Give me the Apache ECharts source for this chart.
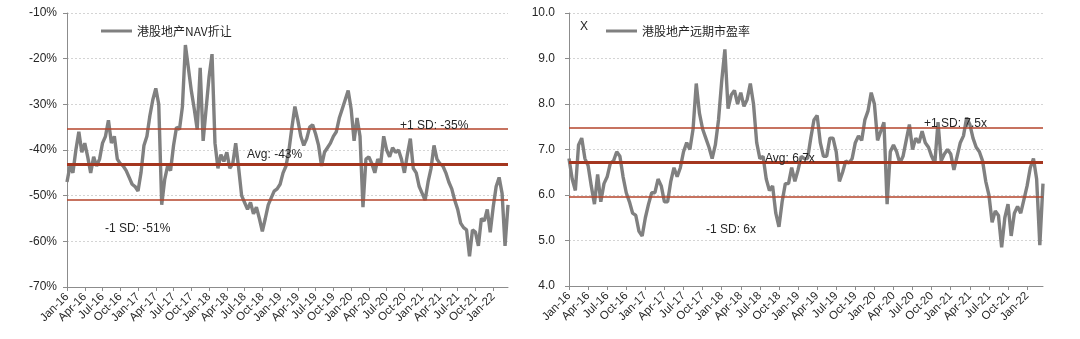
<!DOCTYPE html>
<html>
<head>
<meta charset="utf-8">
<script src="https://cdn.jsdelivr.net/npm/echarts@6/dist/echarts.min.js"></script>
<style>
  html, body { margin: 0; padding: 0; background: #fff; }
  #chart { width: 1080px; height: 339px; }
</style>
</head>
<body>
<div id="chart"></div>
<script>
// Quarterly tick labels (one every 3 months, starting Jan 2016)
const tickLabels = [
  'Jan-16','Apr-16','Jul-16','Oct-16','Jan-17','Apr-17','Jul-17','Oct-17',
  'Jan-18','Apr-18','Jul-18','Oct-18','Jan-19','Apr-19','Jul-19','Oct-19',
  'Jan-20','Apr-20','Jul-20','Oct-20','Jan-21','Apr-21','Jul-21','Oct-21','Jan-22'
];

// Semi-monthly readings from Jan 2016 (one value every half month)
const navDiscount = [
  -47, -43.5, -45, -40, -36, -40.5, -38.5, -41.5, -45, -41.5,
  -43.5, -42, -38.5, -37, -33.5, -38.5, -37, -42, -43, -43.5,
  -44.5, -46, -47.5, -48, -49, -45, -39, -37, -32.5, -29,
  -26.5, -30, -52, -46.5, -43.5, -44.5, -39, -35, -35.5, -30.5,
  -17, -22, -27, -31, -35.5, -22, -38, -31, -24, -19,
  -38.5, -44, -41, -42.5, -40.5, -44, -43, -38.5, -44, -50,
  -51.5, -53, -51.5, -54, -52.5, -55, -57.8, -55, -52, -50.5,
  -49, -48.5, -47.5, -45, -43.5, -40, -35, -30.5, -33.5, -37,
  -39, -37.5, -35, -34.5, -36.5, -39, -43.5, -40.5, -39.5, -38.5,
  -37, -36, -33, -31, -29, -27, -31, -38, -33, -37,
  -52.5, -42, -41.5, -43, -45, -42, -43, -37, -40, -41.5,
  -39.5, -40.5, -40, -42, -45, -41, -37.5, -44, -45, -48,
  -49.5, -51, -47, -44, -39, -42, -43, -43.5, -45, -47,
  -48.5, -51, -53, -56, -57, -57.5, -63.3, -57.5, -58, -61,
  -55, -55.5, -53, -58, -52.5, -48, -46, -49.5, -61, -52
];

const forwardPE = [
  6.8, 6.35, 6.1, 7.1, 7.25, 6.8, 6.65, 6.2, 5.8, 6.45,
  5.85, 6.25, 6.4, 6.7, 6.75, 6.95, 6.85, 6.4, 6.05, 5.85,
  5.6, 5.55, 5.2, 5.1, 5.5, 5.8, 6.05, 6.05, 6.35, 6.2,
  5.85, 5.85, 6.3, 6.6, 6.4, 6.6, 6.95, 7.15, 7.0, 7.45,
  8.45, 7.8, 7.45, 7.25, 7.05, 6.8, 7.1, 7.65, 8.5, 9.2,
  7.9, 8.2, 8.3, 8.0, 8.25, 7.95, 8.1, 8.45, 8.0, 7.15,
  6.8, 6.85, 6.35, 6.1, 6.2, 5.6, 5.3, 5.85, 6.25, 6.25,
  6.6, 6.3, 6.55, 6.85, 6.8, 6.8, 7.25, 7.65, 7.75, 7.15,
  6.85, 6.85, 7.25, 7.25, 6.95, 6.3, 6.5, 6.75, 6.7, 6.8,
  7.15, 7.3, 7.2, 7.65, 7.85, 8.25, 8.0, 7.2, 7.4, 7.6,
  5.8, 6.95, 7.1, 6.95, 6.7, 6.85, 7.2, 7.55, 7.0, 7.25,
  7.15, 7.4, 7.15, 7.05, 6.85, 6.7, 7.6, 6.75, 6.9, 7.0,
  6.9, 6.55, 6.85, 7.15, 7.3, 7.7, 7.55, 7.25, 7.05, 6.95,
  6.75, 6.3, 6.0, 5.4, 5.65, 5.55, 4.85, 5.5, 5.8, 5.1,
  5.6, 5.75, 5.6, 5.9, 6.2, 6.6, 6.8, 6.35, 4.9, 6.25
];

// Long-run average and one standard deviation of each series
const navAvg = -43.2;
const navSd = 7.8;
const peAvg = 6.72;
const peSd = 0.76;

const navName = '港股地产NAV折让';
const peName = '港股地产远期市盈率';

const TEXT = '#262626';
const LATIN = "'Liberation Sans', Arial, sans-serif";
const CJK = "'Noto Sans CJK SC', 'Liberation Sans', sans-serif";
const AXIS_GREY = '#8c8c8c';
const AVG_RED = '#A4361F';
const SD_RED = '#B5442B';
const LINE_GREY = '#808080';

const tickMonths = tickLabels.map((_, i) => i * 3);
const toPoints = arr => arr.map((v, i) => [i * 0.5, v]);
const lastMonth = (navDiscount.length - 1) * 0.5;

function xAxisFor(gridIndex) {
  return {
    type: 'value', gridIndex: gridIndex,
    min: 0, max: lastMonth, interval: 3,
    axisLine: { show: true, onZero: false, lineStyle: { color: AXIS_GREY, width: 1 } },
    axisTick: { show: true, length: 4, customValues: tickMonths, lineStyle: { color: AXIS_GREY } },
    axisLabel: {
      customValues: tickMonths,
      rotate: 45, margin: 8,
      color: TEXT, fontSize: 11.5, fontFamily: LATIN,
      formatter: v => (v % 3 === 0 && tickLabels[v / 3]) ? tickLabels[v / 3] : ''
    },
    splitLine: { show: false }
  };
}

function yAxisFor(gridIndex, min, max, interval, fmt, margin) {
  return {
    type: 'value', gridIndex: gridIndex,
    min: min, max: max, interval: interval,
    axisLine: { show: true, lineStyle: { color: AXIS_GREY, width: 1 } },
    axisTick: { show: true, length: 4, lineStyle: { color: AXIS_GREY } },
    axisLabel: { color: TEXT, fontSize: 12, fontFamily: LATIN, margin: margin, formatter: fmt },
    splitLine: { show: true, lineStyle: { color: '#d4d4d4', type: [2, 2], width: 1 } }
  };
}

function refLine(value, text, width, color, pos, dist) {
  return {
    yAxis: value,
    lineStyle: { color: color, width: width, type: 'solid' },
    label: {
      show: true, formatter: text, position: pos, distance: dist,
      color: TEXT, fontSize: 12, fontFamily: LATIN
    }
  };
}

const trimNum = v => String(parseFloat(v.toFixed(1)));

const option = {
  backgroundColor: '#ffffff',
  animation: false,
  grid: [
    { left: 67, top: 13, width: 441, height: 274 },
    { left: 569, top: 13, width: 474, height: 273 }
  ],
  xAxis: [xAxisFor(0), xAxisFor(1)],
  yAxis: [
    yAxisFor(0, -70, -10, 10, v => v + '%', 10),
    yAxisFor(1, 4, 10, 1, v => v.toFixed(1), 14)
  ],
  legend: [
    {
      data: [navName], left: 96, top: 20, icon: 'rect', itemWidth: 31, itemHeight: 3,
      textStyle: { color: TEXT, fontSize: 12, fontFamily: CJK }
    },
    {
      data: [peName], left: 601, top: 20, icon: 'rect', itemWidth: 31, itemHeight: 3,
      textStyle: { color: TEXT, fontSize: 12, fontFamily: CJK }
    }
  ],
  graphic: [
    { type: 'text', left: 580, top: 21, style: { text: 'X', fill: TEXT, fontSize: 12, fontFamily: LATIN } }
  ],
  series: [
    {
      name: navName, type: 'line', xAxisIndex: 0, yAxisIndex: 0,
      data: toPoints(navDiscount),
      showSymbol: false, symbol: 'none',
      lineStyle: { color: LINE_GREY, width: 3.4 },
      itemStyle: { color: LINE_GREY },
      markLine: {
        silent: true, symbol: 'none', animation: false,
        data: [
          refLine(navAvg, 'Avg: ' + Math.round(navAvg) + '%', 3, AVG_RED, 'insideStartTop', [180, 4]),
          refLine(navAvg + navSd, '+1 SD: ' + Math.round(navAvg + navSd) + '%', 1.5, SD_RED, 'insideStartTop', [333, -3]),
          refLine(navAvg - navSd, '-1 SD: ' + Math.round(navAvg - navSd) + '%', 1.5, SD_RED, 'insideStartBottom', [38, 22])
        ]
      }
    },
    {
      name: peName, type: 'line', xAxisIndex: 1, yAxisIndex: 1,
      data: toPoints(forwardPE),
      showSymbol: false, symbol: 'none',
      lineStyle: { color: LINE_GREY, width: 3.4 },
      itemStyle: { color: LINE_GREY },
      markLine: {
        silent: true, symbol: 'none', animation: false,
        data: [
          refLine(peAvg, 'Avg: ' + trimNum(peAvg) + 'x', 3, AVG_RED, 'insideStartTop', [196, -2]),
          refLine(peAvg + peSd, '+1 SD: ' + trimNum(peAvg + peSd) + 'x', 1.5, SD_RED, 'insideStartTop', [355, -2]),
          refLine(peAvg - peSd, '-1 SD: ' + trimNum(peAvg - peSd) + 'x', 1.5, SD_RED, 'insideStartBottom', [137, 27])
        ]
      }
    }
  ]
};

const chart = echarts.init(document.getElementById('chart'), null, { renderer: 'canvas' });
chart.setOption(option);
</script>
</body>
</html>
